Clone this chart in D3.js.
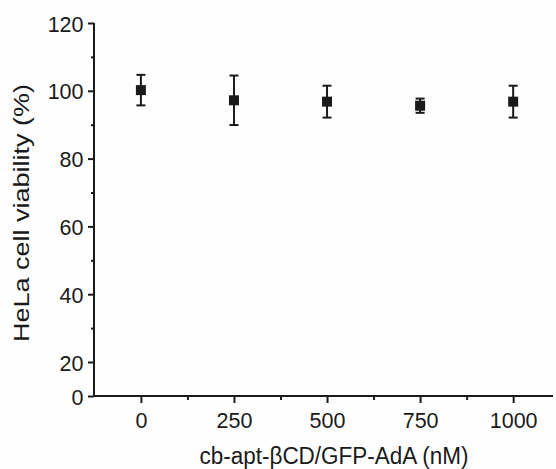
<!DOCTYPE html>
<html><head><meta charset="utf-8">
<script src="https://cdn.jsdelivr.net/npm/d3@7"></script>
<style>body{margin:0;background:#fefefe}svg{display:block}text{font-family:"Liberation Sans",Arial,sans-serif;fill:#1a1a1a}</style>
</head><body><svg id="c" width="556" height="469"></svg>
<script>
const concentrations = [0, 250, 500, 750, 1000];
const viability = [100.2, 97.2, 96.8, 95.6, 96.8];
const errors = [4.5, 7.3, 4.7, 2.1, 4.7];
const yTicks = [0, 20, 40, 60, 80, 100, 120];
const yMinor = [30, 50, 70, 90, 110];
const xTicks = [0, 250, 500, 750, 1000];
const xMinor = [125, 375, 625, 875];
const xTitle = "cb-apt-βCD/GFP-AdA (nM)";
const yTitle = "HeLa cell viability (%)";

const svg = d3.select("#c");
const ink = "#1a1a1a";
const sy = 1.05;
const x = d3.scaleLinear().domain([-126, 1107]).range([94, 553]);
// axis is broken between 0 and 20 in the original figure
const y = d3.scaleLinear().domain([0, 20, 120]).range([396, 362, 23]);

// y axis
const ya = svg.append("g").attr("transform", `translate(${x(-126)},0)`)
  .call(d3.axisLeft(y).tickValues(yTicks).tickSize(6).tickFormat(d3.format("d")));
svg.append("g").attr("transform", `translate(${x(-126)},0)`)
  .call(d3.axisLeft(y).tickValues(yMinor).tickSize(3).tickFormat(""))
  .select(".domain").remove();
// x axis
const xa = svg.append("g").attr("transform", `translate(0,${y(0)})`)
  .call(d3.axisBottom(x).tickValues(xTicks).tickSize(7).tickFormat(d3.format("d")));
svg.append("g").attr("transform", `translate(0,${y(0)})`)
  .call(d3.axisBottom(x).tickValues(xMinor).tickSize(4).tickFormat(""))
  .select(".domain").remove();

svg.selectAll(".domain").attr("stroke", ink).attr("stroke-width", 2);
svg.selectAll(".tick line").attr("stroke", ink).attr("stroke-width", 2);
svg.selectAll(".tick text").attr("font-size", 21.5)
  .style("font-family", "Liberation Sans, Arial, sans-serif").attr("fill", ink);
ya.selectAll(".tick text").attr("x", 0).attr("dy", 0).attr("text-anchor", "end")
  .attr("transform", `translate(-10.5,8) scale(1,${sy})`);
xa.selectAll(".tick text").attr("y", 0).attr("dy", 0)
  .attr("transform", `translate(0,32) scale(1,${sy})`);
ya.select(".domain").attr("d", `M0,${y(120)}V${y(0)}`);
xa.select(".domain").attr("d", `M${x(-126)},0H${x(1107)}`);

// error bars and points
const g = svg.append("g");
const pts = concentrations.map((c, i) => ({c, v: viability[i], e: errors[i]}));
g.selectAll(".eb").data(pts).join("line")
  .attr("x1", d => x(d.c)).attr("x2", d => x(d.c))
  .attr("y1", d => y(d.v + d.e)).attr("y2", d => y(d.v - d.e))
  .attr("stroke", ink).attr("stroke-width", 2);
["top", "bot"].forEach(k => {
  g.selectAll(".cap" + k).data(pts).join("line")
    .attr("x1", d => x(d.c) - 4.5).attr("x2", d => x(d.c) + 4.5)
    .attr("y1", d => y(k === "top" ? d.v + d.e : d.v - d.e))
    .attr("y2", d => y(k === "top" ? d.v + d.e : d.v - d.e))
    .attr("stroke", ink).attr("stroke-width", 2);
});
g.selectAll(".pt").data(pts).join("rect")
  .attr("x", d => x(d.c) - 5).attr("y", d => y(d.v) - 5)
  .attr("width", 10).attr("height", 10).attr("fill", ink);

// titles
svg.append("text").attr("transform", `translate(334,464) scale(1,1.1)`).attr("text-anchor", "middle")
  .attr("font-size", 22.5).text(xTitle);
svg.append("text").attr("transform", `translate(29,213) scale(1,1.2) rotate(-90)`).attr("text-anchor", "middle")
  .attr("font-size", 22.5).text(yTitle);
</script></body></html>
